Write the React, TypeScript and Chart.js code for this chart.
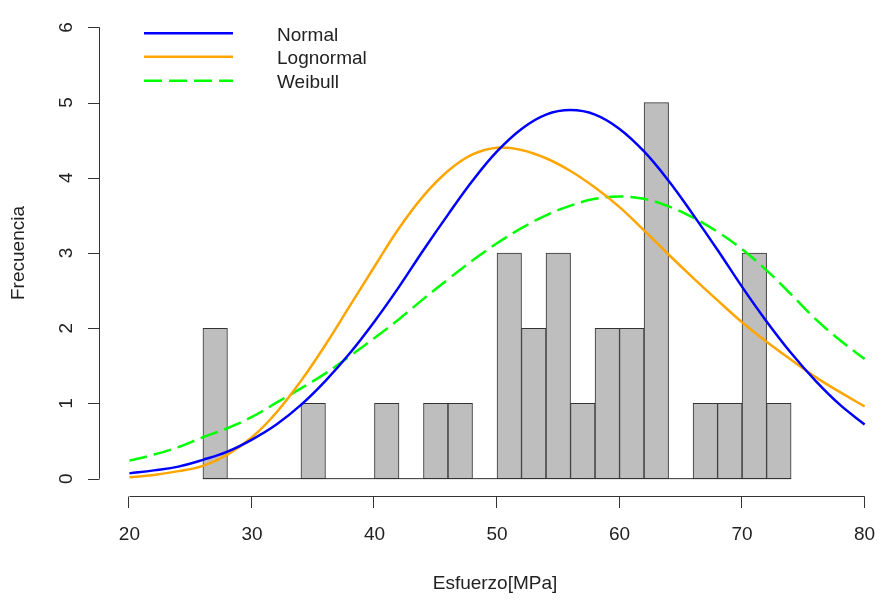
import React, { useEffect, useRef } from "react";
import { Chart, registerables } from "chart.js";

Chart.register(...registerables);

// Histogram (bin centres, width 2)
const binCenters = [27, 29, 31, 33, 35, 37, 39, 41, 43, 45, 47, 49, 51, 53, 55, 57, 59, 61, 63, 65, 67, 69, 71, 73];
const counts = [2, 0, 0, 0, 1, 0, 0, 1, 0, 1, 1, 0, 3, 2, 3, 1, 2, 2, 5, 0, 1, 1, 3, 1];
const binWidth = 2;

// Fitted curves
const curveX = [20, 22, 24, 26, 28, 30, 32, 34, 36, 38, 40, 42, 44, 46, 48, 50, 52, 54, 56, 58, 60, 62, 64, 66, 68, 70, 72, 74, 76, 78, 80];
const normalY = [0.07, 0.11, 0.16, 0.25, 0.36, 0.52, 0.72, 0.98, 1.30, 1.67, 2.09, 2.55, 3.04, 3.51, 3.96, 4.35, 4.65, 4.84, 4.90, 4.84, 4.65, 4.35, 3.96, 3.51, 3.04, 2.55, 2.09, 1.67, 1.30, 0.98, 0.72];
const lognormalY = [0.02, 0.05, 0.10, 0.17, 0.32, 0.55, 0.88, 1.30, 1.78, 2.30, 2.82, 3.33, 3.76, 4.09, 4.31, 4.40, 4.37, 4.26, 4.09, 3.87, 3.61, 3.30, 2.98, 2.67, 2.37, 2.08, 1.82, 1.58, 1.35, 1.15, 0.96];
const weibullY = [0.24, 0.32, 0.42, 0.55, 0.67, 0.82, 1.01, 1.20, 1.40, 1.63, 1.87, 2.12, 2.39, 2.65, 2.90, 3.13, 3.33, 3.50, 3.63, 3.72, 3.75, 3.72, 3.62, 3.47, 3.28, 3.05, 2.77, 2.45, 2.12, 1.84, 1.59];

const xTicks = [20, 30, 40, 50, 60, 70, 80];
const yTicks = [0, 1, 2, 3, 4, 5, 6];
const seriesNames = ["Normal", "Lognormal", "Weibull"];
const seriesColors = ["#0000FF", "#FFA500", "#00FF00"];
const seriesDashes = [[], [], [18, 7]];
const xTitle = "Esfuerzo[MPa]";
const yTitle = "Frecuencia";

const FONT = '19px "Liberation Sans", Arial, Helvetica, sans-serif';
const TEXT = "#222222";
const AXIS = "#333333";

const rAxesPlugin = {
  id: "rAxes",
  afterDraw(chart: any) {
    const { ctx, chartArea } = chart;
    const xs = chart.scales.x;
    const ys = chart.scales.y;
    ctx.save();
    ctx.strokeStyle = AXIS;
    ctx.lineWidth = 1;
    ctx.fillStyle = TEXT;
    ctx.font = FONT;

    // x axis
    const ay = Math.floor(chartArea.bottom) + 0.5;
    const x0 = xs.getPixelForValue(xTicks[0]);
    const x1 = xs.getPixelForValue(xTicks[xTicks.length - 1]);
    ctx.beginPath();
    ctx.moveTo(x0, ay);
    ctx.lineTo(x1, ay);
    xTicks.forEach((t) => {
      const px = Math.round(xs.getPixelForValue(t)) - 0.5;
      ctx.moveTo(px, ay);
      ctx.lineTo(px, ay + 11.5);
    });
    ctx.stroke();
    ctx.textAlign = "center";
    ctx.textBaseline = "alphabetic";
    xTicks.forEach((t) => {
      ctx.fillText(String(t), xs.getPixelForValue(t), ay + 43);
    });

    // y axis
    const ax = Math.floor(chartArea.left) - 0.5;
    const yTop = ys.getPixelForValue(yTicks[yTicks.length - 1]);
    const yBot = ys.getPixelForValue(yTicks[0]);
    ctx.beginPath();
    ctx.moveTo(ax, yBot);
    ctx.lineTo(ax, yTop);
    yTicks.forEach((t) => {
      const py = Math.round(ys.getPixelForValue(t)) + 0.5;
      ctx.moveTo(ax, py);
      ctx.lineTo(ax - 11.5, py);
    });
    ctx.stroke();
    yTicks.forEach((t) => {
      ctx.save();
      ctx.translate(ax - 28, ys.getPixelForValue(t));
      ctx.rotate(-Math.PI / 2);
      ctx.textAlign = "center";
      ctx.textBaseline = "alphabetic";
      ctx.fillText(String(t), 0, 0);
      ctx.restore();
    });

    // axis titles
    ctx.textAlign = "center";
    ctx.fillText(xTitle, xs.getPixelForValue((xs.min + 82.4) / 2) - 2, 589);
    ctx.save();
    ctx.translate(24, (yTop + yBot) / 2);
    ctx.rotate(-Math.PI / 2);
    ctx.fillText(yTitle, 0, 0);
    ctx.restore();

    // legend
    const lx0 = chartArea.left + 44;
    const lx1 = chartArea.left + 133;
    const tx = chartArea.left + 177;
    const rowY = [chartArea.top + 24, chartArea.top + 47.5, chartArea.top + 71.5];
    seriesNames.forEach((name, i) => {
      ctx.save();
      ctx.strokeStyle = seriesColors[i];
      ctx.lineWidth = 2.5;
      ctx.setLineDash(seriesDashes[i]);
      ctx.beginPath();
      ctx.moveTo(lx0, rowY[i]);
      ctx.lineTo(lx1, rowY[i]);
      ctx.stroke();
      ctx.restore();
      ctx.textAlign = "left";
      ctx.textBaseline = "alphabetic";
      ctx.fillText(name, tx, rowY[i] + 7.5);
    });
    ctx.restore();
  },
};

export default function App() {
  const canvasRef = useRef<HTMLCanvasElement | null>(null);

  useEffect(() => {
    document.body.style.margin = "0";
    const canvas = canvasRef.current;
    if (!canvas) return;
    const curves = [normalY, lognormalY, weibullY];
    const chart = new Chart(canvas, {
      type: "bar",
      data: {
        datasets: [
          ...curves.map((ys, i) => ({
            type: "line" as const,
            label: seriesNames[i],
            data: curveX.map((x, j) => ({ x, y: ys[j] })),
            borderColor: seriesColors[i],
            borderWidth: 2.5,
            borderDash: seriesDashes[i],
            pointRadius: 0,
            tension: 0.4,
            fill: false,
            order: 0,
          })),
          {
            type: "line" as const,
            label: "baseline",
            data: [
              { x: binCenters[0] - binWidth / 2, y: 0 },
              { x: binCenters[binCenters.length - 1] + binWidth / 2, y: 0 },
            ],
            borderColor: AXIS,
            borderWidth: 1,
            pointRadius: 0,
            fill: false,
            order: 1,
          },
          {
            type: "bar" as const,
            label: "hist",
            data: binCenters.map((x, i) => ({ x, y: counts[i] })),
            backgroundColor: "#BEBEBE",
            borderColor: AXIS,
            borderWidth: 1,
            borderSkipped: false,
            barPercentage: 1,
            categoryPercentage: 1,
            grouped: false,
            order: 2,
          },
        ],
      },
      options: {
        animation: false,
        responsive: false,
        devicePixelRatio: 1,
        layout: { padding: { left: 100, right: 0, top: 9.3, bottom: 107.3 } },
        plugins: { legend: { display: false }, tooltip: { enabled: false } },
        scales: {
          x: { type: "linear", min: 17.6, max: 81.5, offset: false, display: false },
          y: { type: "linear", min: -0.24, max: 6.24, display: false },
        },
      },
      plugins: [rAxesPlugin],
    } as any);
    return () => chart.destroy();
  }, []);

  return (
    <div style={{ width: 883, height: 604, background: "#fff" }}>
      <canvas ref={canvasRef} width={883} height={604} style={{ display: "block" }} />
    </div>
  );
}
